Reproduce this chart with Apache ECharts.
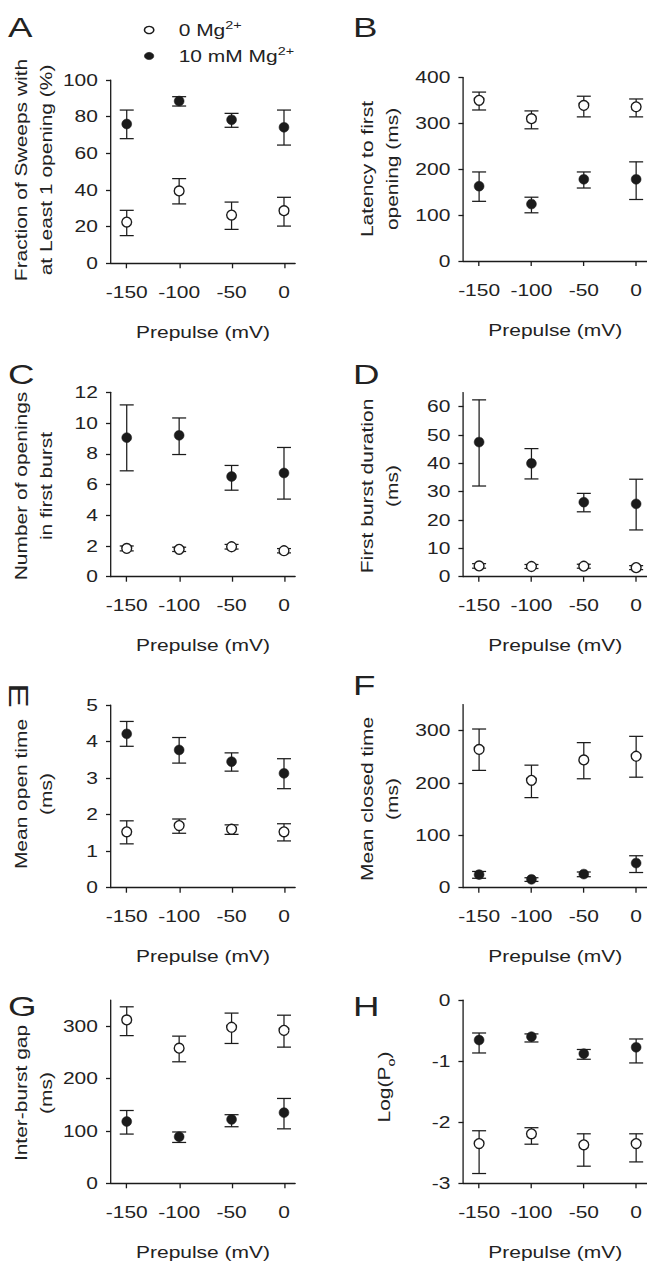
<!DOCTYPE html>
<html><head><meta charset="utf-8">
<script src="https://cdn.jsdelivr.net/npm/echarts@6/dist/echarts.min.js"></script>
<style>
html,body{margin:0;padding:0;background:#fff;overflow:hidden;}
#wrap{width:647px;height:1263px;overflow:hidden;position:relative;background:#fff;}
#chart{width:494px;height:1263px;transform:scaleX(1.31);transform-origin:0 0;}
</style></head><body><div id="wrap"><div id="chart"></div></div>
<script>
// ---------- DATA ----------
const prepulse = [-150, -100, -50, 0];
const xTickValues = [-150, -100, -50, 0];

// A: Fraction of sweeps with at least 1 opening (%)
const fractionMg0 = [22.5, 39.5, 26.3, 28.7];
const fractionMg0Lo = [15.1, 32.4, 18.5, 20.3];
const fractionMg0Hi = [28.9, 46.2, 33.4, 36.0];
const fractionMg10 = [76.0, 88.5, 78.3, 74.2];
const fractionMg10Lo = [68.0, 85.8, 74.2, 64.5];
const fractionMg10Hi = [83.6, 90.9, 81.8, 83.6];
const fractionTicks = [0, 20, 40, 60, 80, 100];

// B: Latency to first opening (ms)
const latencyMg0 = [350, 310, 339, 336];
const latencyMg0Lo = [329, 288, 314, 314];
const latencyMg0Hi = [368, 327, 359, 353];
const latencyMg10 = [163, 124, 178, 178];
const latencyMg10Lo = [130, 105, 159, 134];
const latencyMg10Hi = [194, 139, 194, 216];
const latencyTicks = [0, 100, 200, 300, 400];

// C: Number of openings in first burst
const openingsMg0 = [1.84, 1.78, 1.95, 1.69];
const openingsMg0Lo = [1.68, 1.64, 1.80, 1.55];
const openingsMg0Hi = [2.00, 1.92, 2.10, 1.83];
const openingsMg10 = [9.05, 9.2, 6.52, 6.75];
const openingsMg10Lo = [6.89, 7.95, 5.63, 5.05];
const openingsMg10Hi = [11.18, 10.33, 7.24, 8.41];
const openingsTicks = [0, 2, 4, 6, 8, 10, 12];

// D: First burst duration (ms)
const burstMg0 = [3.8, 3.6, 3.7, 3.2];
const burstMg0Lo = [3.0, 2.9, 3.0, 2.5];
const burstMg0Hi = [4.6, 4.3, 4.4, 3.9];
const burstMg10 = [47.5, 40.0, 26.3, 25.7];
const burstMg10Lo = [32.0, 34.5, 22.9, 16.5];
const burstMg10Hi = [62.4, 45.2, 29.4, 34.4];
const burstTicks = [0, 10, 20, 30, 40, 50, 60];

// E: Mean open time (ms)
const openTimeMg0 = [1.53, 1.70, 1.60, 1.53];
const openTimeMg0Lo = [1.20, 1.49, 1.46, 1.28];
const openTimeMg0Hi = [1.83, 1.88, 1.72, 1.75];
const openTimeMg10 = [4.21, 3.77, 3.45, 3.13];
const openTimeMg10Lo = [3.87, 3.41, 3.19, 2.71];
const openTimeMg10Hi = [4.55, 4.11, 3.69, 3.53];
const openTimeTicks = [0, 1, 2, 3, 4, 5];

// F: Mean closed time (ms)
const closedMg0 = [264, 205, 244, 251];
const closedMg0Lo = [224, 172, 208, 211];
const closedMg0Hi = [303, 234, 277, 289];
const closedMg10 = [25, 16, 26, 47];
const closedMg10Lo = [18, 12, 21, 29];
const closedMg10Hi = [31, 19, 30, 61];
const closedTicks = [0, 100, 200, 300];

// G: Inter-burst gap (ms)
const gapMg0 = [312, 258, 298, 292];
const gapMg0Lo = [282, 232, 267, 260];
const gapMg0Hi = [337, 281, 325, 321];
const gapMg10 = [118, 89, 122, 135];
const gapMg10Lo = [94, 78, 108, 104];
const gapMg10Hi = [139, 98, 131, 162];
const gapTicks = [0, 100, 200, 300];

// H: Log(Po)
const logPoMg0 = [-2.35, -2.19, -2.37, -2.35];
const logPoMg0Lo = [-2.84, -2.36, -2.72, -2.65];
const logPoMg0Hi = [-2.14, -2.09, -2.19, -2.19];
const logPoMg10 = [-0.655, -0.60, -0.878, -0.774];
const logPoMg10Lo = [-0.867, -0.687, -0.97, -1.03];
const logPoMg10Hi = [-0.54, -0.555, -0.81, -0.638];
const logPoTicks = [-3, -2, -1, 0];

// ---------- PANELS ----------
const panels = [
  {letter:'A', title:'Fraction of Sweeps with\nat Least 1 opening (%)', min:0, max:100, ticks:fractionTicks,
   m0:fractionMg0, m0Lo:fractionMg0Lo, m0Hi:fractionMg0Hi, m10:fractionMg10, m10Lo:fractionMg10Lo, m10Hi:fractionMg10Hi},
  {letter:'B', title:'Latency to first\nopening (ms)', min:0, max:400, ticks:latencyTicks,
   m0:latencyMg0, m0Lo:latencyMg0Lo, m0Hi:latencyMg0Hi, m10:latencyMg10, m10Lo:latencyMg10Lo, m10Hi:latencyMg10Hi},
  {letter:'C', title:'Number of openings\nin first burst', min:0, max:12, ticks:openingsTicks,
   m0:openingsMg0, m0Lo:openingsMg0Lo, m0Hi:openingsMg0Hi, m10:openingsMg10, m10Lo:openingsMg10Lo, m10Hi:openingsMg10Hi},
  {letter:'D', title:'First burst duration\n(ms)', min:0, max:65, ticks:burstTicks,
   m0:burstMg0, m0Lo:burstMg0Lo, m0Hi:burstMg0Hi, m10:burstMg10, m10Lo:burstMg10Lo, m10Hi:burstMg10Hi},
  {letter:'E', title:'Mean open time\n(ms)', min:0, max:5, ticks:openTimeTicks,
   m0:openTimeMg0, m0Lo:openTimeMg0Lo, m0Hi:openTimeMg0Hi, m10:openTimeMg10, m10Lo:openTimeMg10Lo, m10Hi:openTimeMg10Hi},
  {letter:'F', title:'Mean closed time\n(ms)', min:0, max:350, ticks:closedTicks,
   m0:closedMg0, m0Lo:closedMg0Lo, m0Hi:closedMg0Hi, m10:closedMg10, m10Lo:closedMg10Lo, m10Hi:closedMg10Hi},
  {letter:'G', title:'Inter-burst gap\n(ms)', min:0, max:350, ticks:gapTicks,
   m0:gapMg0, m0Lo:gapMg0Lo, m0Hi:gapMg0Hi, m10:gapMg10, m10Lo:gapMg10Lo, m10Hi:gapMg10Hi},
  {letter:'H', title:'{t|Log(P}{sub|o}{t|)}', min:-3, max:0, ticks:logPoTicks,
   m0:logPoMg0, m0Lo:logPoMg0Lo, m0Hi:logPoMg0Hi, m10:logPoMg10, m10Lo:logPoMg10Lo, m10Hi:logPoMg10Hi}
];

// ---------- LAYOUT (page pixels; x divided by horizontal text stretch S) ----------
const S = 1.31;
const px = v => v / S;
const LEFT_X = 111, RIGHT_X = 463.4, PLOT_W = 184;
const layout = [
  {left:LEFT_X, top:80, height:183.3, titleX:33.5, titleY:170, letterX:8, letterY:27},
  {left:RIGHT_X, top:77.4, height:183.6, titleX:380, titleY:169, letterX:353, letterY:27},
  {left:LEFT_X, top:392.3, height:184.4, titleX:34, titleY:486, letterX:8, letterY:374},
  {left:RIGHT_X, top:392.5, height:184.2, titleX:379.5, titleY:486, letterX:353, letterY:374},
  {left:LEFT_X, top:705, height:182.7, titleX:34, titleY:794, letterX:18.5, letterY:695.5, rot:true},
  {left:RIGHT_X, top:704.4, height:183.3, titleX:379.5, titleY:799, letterX:353, letterY:685},
  {left:LEFT_X, top:1000, height:183.3, titleX:34, titleY:1093, letterX:8, letterY:1006},
  {left:RIGHT_X, top:1000, height:183.3, titleX:384, titleY:1087, letterX:353, letterY:1006}
];

const INK = '#1b1b1b';
const TXT = '#222222';
const FONT = '"Liberation Sans", Arial, Helvetica, sans-serif';
const CAP_HALF = 7 / S;

function errRender(params, api) {
  const x = api.value(0), lo = api.value(1), hi = api.value(2);
  const a = api.coord([x, lo]), b = api.coord([x, hi]);
  const vs = {stroke: INK, lineWidth: 0.95, fill: null};
  const hs = {stroke: INK, lineWidth: 1.25, fill: null};
  return {type: 'group', children: [
    {type: 'line', shape: {x1: a[0], y1: a[1], x2: b[0], y2: b[1]}, style: vs},
    {type: 'line', shape: {x1: a[0] - CAP_HALF, y1: a[1], x2: a[0] + CAP_HALF, y2: a[1]}, style: hs},
    {type: 'line', shape: {x1: b[0] - CAP_HALF, y1: b[1], x2: b[0] + CAP_HALF, y2: b[1]}, style: hs}
  ]};
}

const grid = [], xAxis = [], yAxis = [], series = [], graphic = [];
panels.forEach((p, i) => {
  const L = layout[i];
  grid.push({left: px(L.left), top: L.top, width: px(PLOT_W), height: L.height, containLabel: false});
  xAxis.push({
    gridIndex: i, type: 'value', min: -165, max: 10.5,
    axisLine: {show: true, onZero: false, lineStyle: {color: INK, width: 1.3}},
    axisTick: {show: true, length: 5, customValues: xTickValues, lineStyle: {color: INK, width: 1.0}},
    axisLabel: {customValues: xTickValues, margin: 21, fontSize: 16, color: TXT, fontFamily: FONT},
    splitLine: {show: false},
    name: 'Prepulse (mV)', nameLocation: 'middle', nameGap: 69,
    nameTextStyle: {fontSize: 16, color: TXT, fontFamily: FONT, verticalAlign: 'middle'}
  });
  yAxis.push({
    gridIndex: i, type: 'value', min: p.min, max: p.max,
    axisLine: {show: true, onZero: false, lineStyle: {color: INK, width: 1.0}},
    axisTick: {show: true, length: 3.8, customValues: p.ticks, lineStyle: {color: INK, width: 1.3}},
    axisLabel: {customValues: p.ticks, margin: 10, fontSize: 16, color: TXT, fontFamily: FONT},
    splitLine: {show: false}
  });
  const mk = (m, lo, hi) => prepulse.map((x, k) => [x, lo[k], hi[k]]);
  series.push({name: 'err0', type: 'custom', xAxisIndex: i, yAxisIndex: i, renderItem: errRender,
    encode: {x: 0, y: [1, 2]}, data: mk(p.m0, p.m0Lo, p.m0Hi), z: 2, silent: true});
  series.push({name: 'err10', type: 'custom', xAxisIndex: i, yAxisIndex: i, renderItem: errRender,
    encode: {x: 0, y: [1, 2]}, data: mk(p.m10, p.m10Lo, p.m10Hi), z: 2, silent: true});
  series.push({name: 'mg0', type: 'scatter', xAxisIndex: i, yAxisIndex: i, symbol: 'circle', symbolSize: [9.8 / S, 9.8],
    itemStyle: {color: '#ffffff', borderColor: INK, borderWidth: 1.2, opacity: 1},
    data: prepulse.map((x, k) => [x, p.m0[k]]), z: 3, silent: true});
  series.push({name: 'mg10', type: 'scatter', xAxisIndex: i, yAxisIndex: i, symbol: 'circle', symbolSize: [9.8 / S, 9.8],
    itemStyle: {color: INK, borderColor: INK, borderWidth: 0.5, opacity: 1},
    data: prepulse.map((x, k) => [x, p.m10[k]]), z: 3, silent: true});
  // y-axis title: rotated, stretched along its reading direction like the horizontal text
  graphic.push({
    type: 'text', x: px(L.titleX), y: L.titleY, rotation: Math.PI / 2, scaleX: S, scaleY: 1 / S,
    style: {text: p.title, font: '16px ' + FONT, fill: TXT, lineHeight: 25, align: 'center', verticalAlign: 'middle',
      rich: {t: {fontSize: 16, lineHeight: 22, fill: TXT, fontFamily: FONT},
             sub: {fontSize: 11, verticalAlign: 'bottom', fill: TXT, fontFamily: FONT}}}
  });
  // panel letter
  graphic.push({
    type: 'text', x: px(L.letterX), y: L.letterY,
    rotation: L.rot ? -Math.PI / 2 : 0,
    scaleX: L.rot ? S : 1, scaleY: L.rot ? 1 / S : 1,
    style: {text: p.letter, font: '28px ' + FONT, fill: TXT,
      align: L.rot ? 'center' : 'left', verticalAlign: 'middle'}
  });
});

const option = {
  backgroundColor: '#ffffff',
  animation: false,
  grid, xAxis, yAxis, series, graphic,
  legend: {
    orient: 'vertical', left: px(137.1), top: 15, itemWidth: 9.4 / S, itemHeight: 9.4, itemGap: 8,
    symbolKeepAspect: false, selectedMode: false,
    data: [
      {name: 'mg0', icon: 'circle', itemStyle: {color: '#ffffff', borderColor: INK, borderWidth: 1.2}},
      {name: 'mg10', icon: 'circle', itemStyle: {color: INK, borderColor: INK, borderWidth: 0.5}}
    ],
    formatter: n => n === 'mg0' ? '{a|0 Mg}{sup|2+}' : '{a|10 mM Mg}{sup|2+}',
    textStyle: {padding: [0, 0, 0, 14], color: TXT, fontFamily: FONT, fontSize: 16,
      rich: {a: {fontSize: 16, lineHeight: 20, color: TXT, fontFamily: FONT},
             sup: {fontSize: 11, verticalAlign: 'top', color: TXT, fontFamily: FONT}}}
  }
};

const chart = echarts.init(document.getElementById('chart'), null, {renderer: 'svg', width: 494, height: 1263});
chart.setOption(option);
</script></body></html>
